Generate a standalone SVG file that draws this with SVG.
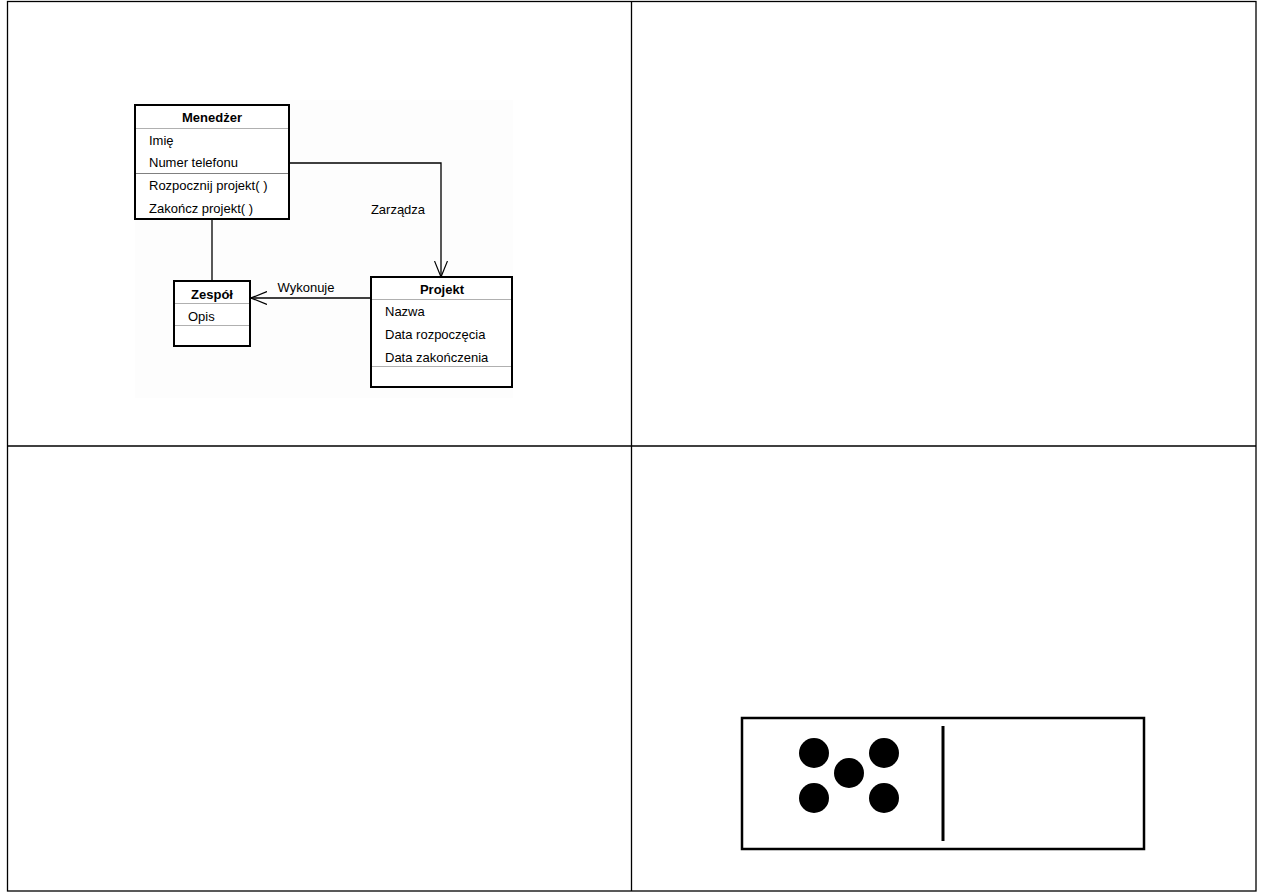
<svg xmlns="http://www.w3.org/2000/svg" width="1263" height="893" viewBox="0 0 1263 893">
<style>
.frame{fill:none;stroke:#000;stroke-width:1.3}
.box{fill:#fff;stroke:#000;stroke-width:2}
.sep{stroke:#b0b0b0;stroke-width:1}
.sep2{stroke:#808080;stroke-width:1}
.t{font-family:"Liberation Sans",Arial,sans-serif;font-size:13px;fill:#000}
.b{font-weight:bold;text-anchor:middle}
.conn{fill:none;stroke:#000;stroke-width:1.3}
</style>
<defs>
<marker id="open" viewBox="0 0 16 14" refX="16" refY="7" markerWidth="16" markerHeight="14" markerUnits="userSpaceOnUse" orient="auto">
<path d="M0,0.5 L16,7 L0,13.5" fill="none" stroke="#000" stroke-width="1.2"/>
</marker>
</defs>
<rect width="1263" height="893" fill="#fff"/>
<g id="frame">
<rect class="frame" x="7.5" y="1.5" width="1248.5" height="889.5"/>
<line class="frame" x1="631.5" y1="1.5" x2="631.5" y2="891"/>
<line class="frame" x1="7.5" y1="446" x2="1256" y2="446"/>
</g>
<rect x="135" y="100" width="378" height="298" fill="#fdfdfd"/>
<g id="connectors">
<polyline class="conn" points="289,163 441,163 441,277" marker-end="url(#open)"/>
<line class="conn" x1="212" y1="220" x2="212" y2="281"/>
<line class="conn" x1="371" y1="298" x2="251" y2="298" marker-end="url(#open)"/>
<text class="t" x="398" y="214" text-anchor="middle">Zarządza</text>
<text class="t" x="306" y="292" text-anchor="middle">Wykonuje</text>
</g>
<g id="menedzer">
<rect class="box" x="135" y="105" width="154" height="114"/>
<line class="sep" x1="136" y1="128.5" x2="288" y2="128.5"/>
<line class="sep2" x1="136" y1="173.5" x2="288" y2="173.5"/>
<text class="t b" x="212" y="122">Menedżer</text>
<text class="t" x="149" y="145">Imię</text>
<text class="t" x="149" y="167">Numer telefonu</text>
<text class="t" x="149" y="190">Rozpocznij projekt( )</text>
<text class="t" x="149" y="213">Zakończ projekt( )</text>
</g>
<g id="zespol">
<rect class="box" x="174" y="281" width="76" height="65"/>
<line class="sep" x1="175" y1="303.5" x2="249" y2="303.5"/>
<line class="sep" x1="175" y1="325.5" x2="249" y2="325.5"/>
<text class="t b" x="212" y="299">Zespół</text>
<text class="t" x="188" y="321">Opis</text>
</g>
<g id="projekt">
<rect class="box" x="371" y="277" width="141" height="110"/>
<line class="sep" x1="372" y1="299.5" x2="511" y2="299.5"/>
<line class="sep" x1="372" y1="366.5" x2="511" y2="366.5"/>
<text class="t b" x="442" y="294">Projekt</text>
<text class="t" x="385" y="316">Nazwa</text>
<text class="t" x="385" y="339">Data rozpoczęcia</text>
<text class="t" x="385" y="362">Data zakończenia</text>
</g>
<g id="domino">
<rect x="742" y="718" width="402" height="131" fill="#fff" stroke="#000" stroke-width="2.5"/>
<line x1="943" y1="726" x2="943" y2="841" stroke="#000" stroke-width="3"/>
<circle cx="814" cy="753" r="15" fill="#000"/>
<circle cx="884" cy="753" r="15" fill="#000"/>
<circle cx="849" cy="773" r="15" fill="#000"/>
<circle cx="814" cy="798" r="15" fill="#000"/>
<circle cx="884" cy="798" r="15" fill="#000"/>
</g>
</svg>
